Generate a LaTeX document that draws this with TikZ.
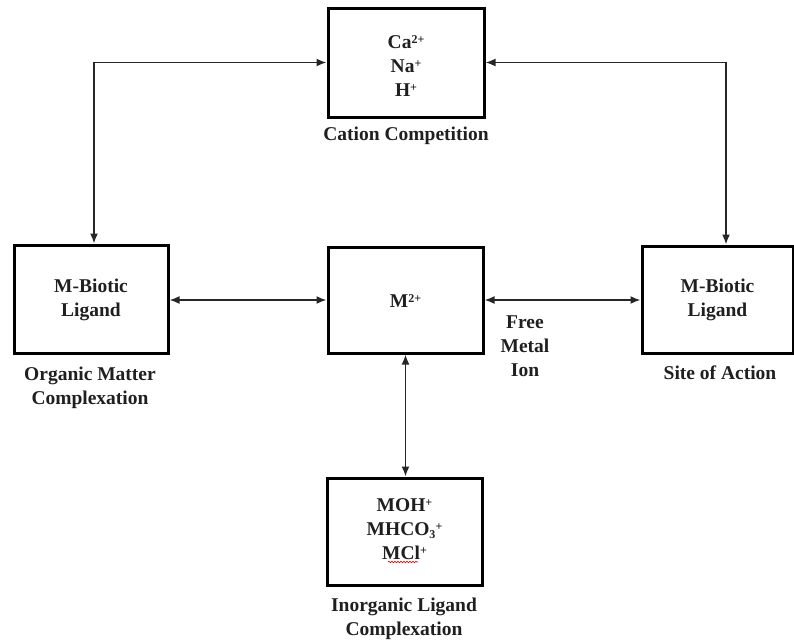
\documentclass[tikz,border=0pt]{standalone}
\usepackage{fontspec}
\setmainfont{Liberation Serif}
\usetikzlibrary{arrows.meta,decorations.pathmorphing}
\newcommand{\mysup}[1]{\raisebox{0.6ex}{\fontsize{12}{12}\selectfont #1}}
\newcommand{\mysub}[1]{\raisebox{-0.35ex}{\fontsize{12}{12}\selectfont #1}}
\begin{document}
\begin{tikzpicture}[x=1pt,y=-1pt,
  box/.style={draw=black, line width=3pt, fill=none, inner sep=0pt},
  txt/.style={font=\fontsize{19.5}{24}\selectfont\bfseries, align=center, inner sep=0pt, text=black!88},
  conn/.style={line width=1.7pt, draw=black!85, {Latex[length=10pt,width=8pt]}-{Latex[length=10pt,width=8pt]}}
]
\useasboundingbox (0,0) rectangle (794,643);
% boxes
\node[box, minimum width=156pt, minimum height=109pt] (top) at (406,62.5) {};
\node[box, minimum width=154pt, minimum height=108pt] (left) at (91,299) {};
\node[box, minimum width=155pt, minimum height=106pt] (mid) at (405.5,300) {};
\node[box, minimum width=151pt, minimum height=107pt] (right) at (717.5,299.5) {};
\node[box, minimum width=155pt, minimum height=107pt] (bot) at (404.5,531.5) {};
% box texts
\node[txt] (topT) at (406,66) {Ca\mysup{2+}\\Na\mysup{+}\\H\mysup{+}};
\node[txt] (leftT) at (91,300) {M-Biotic\\Ligand};
\node[txt] (midT) at (405.5,301) {M\mysup{2+}};
\node[txt] (rightT) at (717.5,299.5) {M-Biotic\\Ligand};
\node[txt] (botT) at (404.5,529) {MOH\mysup{+}\\MHCO\mysub{3}\mysup{+}\\MCl\mysup{+}};
% captions
\node[txt] (capTop) at (406,136) {Cation Competition};
\node[txt] (capLeft) at (90,388) {Organic Matter\\Complexation};
\node[txt] (capRight) at (720,373) {Site of Action};
\node[txt] (capMid) at (525,346) {Free\\Metal\\Ion};
\node[txt] (capBot) at (404,619) {Inorganic Ligand\\Complexation};
% spell-check squiggle under MCl
\coordinate (sqA) at (388,562);
\coordinate (sqB) at (418,562);
\draw[red!80!black, line width=0.6pt, decorate, decoration={snake, amplitude=0.8pt, segment length=3pt}] (sqA) -- (sqB);
% connectors
\draw[conn] ([xshift=3pt]left.north) |- (top.west);
\draw[conn] (top.east) -| ([xshift=8.5pt]right.north);
\draw[conn] (left.east |- mid.west) -- (mid.west);
\draw[conn] (mid.east) -- (right.west |- mid.east);
\draw[conn] (mid.south) -- (mid.south |- bot.north);
\end{tikzpicture}
\end{document}
